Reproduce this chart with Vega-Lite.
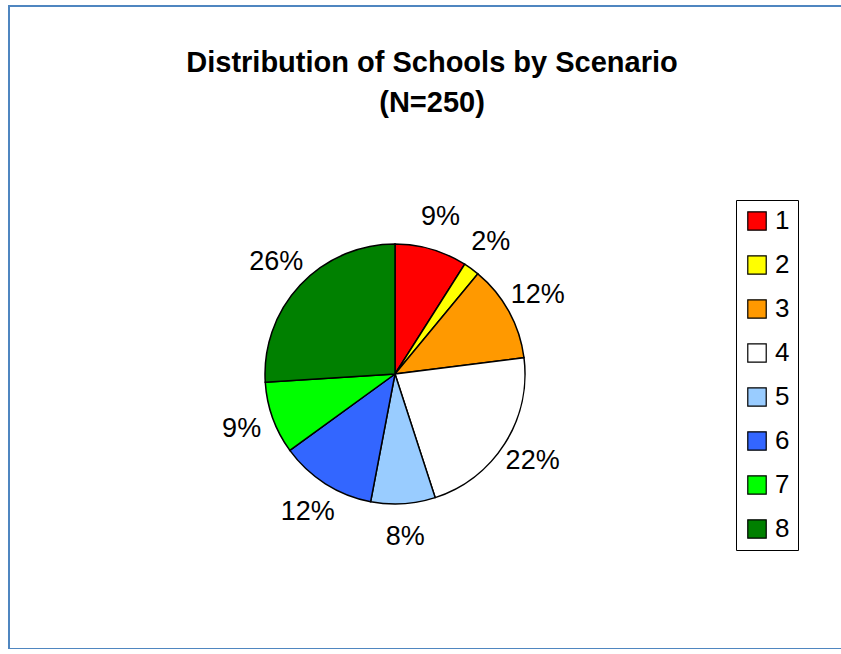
{
  "$schema": "https://vega.github.io/schema/vega-lite/v6.json",
  "width": 846,
  "height": 643,
  "autosize": {"type": "none"},
  "padding": {"left": 9, "top": 6, "right": 0, "bottom": 0},
  "background": "white",
  "view": {"stroke": "#4F86C0", "strokeWidth": 2, "fill": "white"},
  "title": {
    "text": ["Distribution of Schools by Scenario", "(N=250)"],
    "anchor": "middle",
    "frame": "group",
    "font": "Liberation Sans",
    "fontSize": 29,
    "fontWeight": "bold",
    "color": "black",
    "baseline": "alphabetic",
    "lineHeight": 40,
    "offset": -135
  },
  "data": {
    "values": [
      {"scenario": "1", "share": 0.09},
      {"scenario": "2", "share": 0.02},
      {"scenario": "3", "share": 0.12},
      {"scenario": "4", "share": 0.22},
      {"scenario": "5", "share": 0.08},
      {"scenario": "6", "share": 0.12},
      {"scenario": "7", "share": 0.09},
      {"scenario": "8", "share": 0.26}
    ]
  },
  "encoding": {
    "theta": {"field": "share", "type": "quantitative", "stack": true},
    "order": {"field": "scenario", "type": "ordinal"}
  },
  "layer": [
    {
      "mark": {"type": "arc", "outerRadius": 130, "x": 386, "y": 368, "stroke": "black", "strokeWidth": 1.5},
      "encoding": {
        "color": {
          "field": "scenario",
          "type": "nominal",
          "scale": {
            "domain": ["1", "2", "3", "4", "5", "6", "7", "8"],
            "range": ["#FF0000", "#FFFF00", "#FF9900", "#FFFFFF", "#99CCFF", "#3366FF", "#00FF00", "#008000"]
          },
          "legend": {
            "title": null,
            "orient": "none",
            "legendX": 727,
            "legendY": 194,
            "symbolType": "square",
            "symbolSize": 340,
            "symbolStrokeColor": "black",
            "symbolStrokeWidth": 1.2,
            "symbolOpacity": 1,
            "labelFont": "Liberation Sans",
            "labelFontSize": 26,
            "labelColor": "black",
            "labelOffset": 5,
            "rowPadding": 18,
            "strokeColor": "black",
            "padding": 8,
            "fillColor": "white"
          }
        }
      }
    },
    {
      "mark": {"type": "text", "radius": 163, "x": 386, "y": 368, "font": "Liberation Sans", "fontSize": 27, "color": "black"},
      "encoding": {
        "detail": {"field": "scenario", "type": "nominal"},
        "text": {"field": "share", "type": "quantitative", "format": ".0%"}
      }
    }
  ]
}
